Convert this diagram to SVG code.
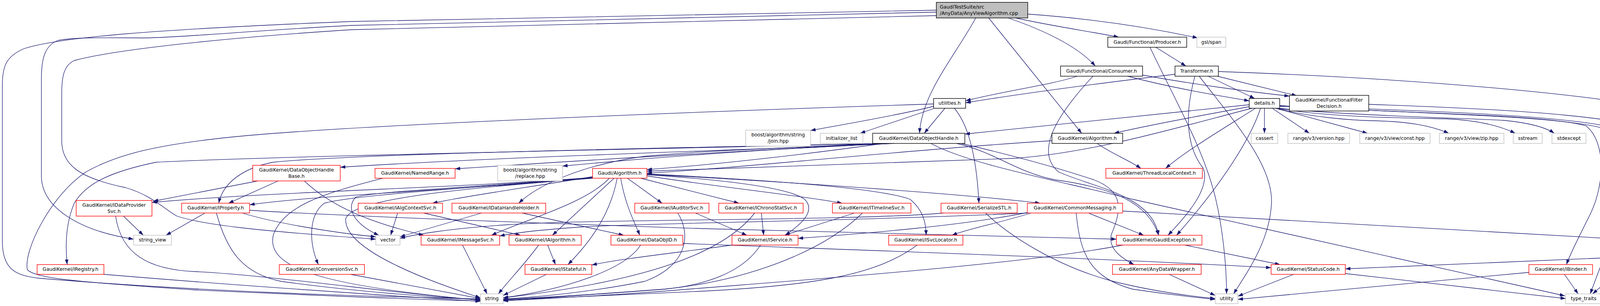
<svg xmlns="http://www.w3.org/2000/svg" width="4421" height="783" viewBox="0 0 4421 783">
<style>
.e path{fill:none;stroke:#191970;stroke-width:1.3;marker-end:url(#ah)}
rect.k{fill:#fff;stroke:#000;stroke-width:1.4}
rect.r{fill:#fff;stroke:#ff0000;stroke-width:1.4}
rect.g{fill:#fff;stroke:#bfbfbf;stroke-width:1.4}
rect.rt{fill:#bfbfbf;stroke:#000;stroke-width:1.4}
text{font-family:"DejaVu Sans",sans-serif;font-size:12.3px;fill:#000}
text.c{text-anchor:middle}
</style>
<defs>
<marker id="ah" viewBox="0 0 13 9" refX="13" refY="4.5" markerWidth="13" markerHeight="9" orient="auto" markerUnits="userSpaceOnUse"><path d="M0,0 L13,4.5 L0,9 Z" fill="#191970"/></marker>
</defs>
<rect x="0" y="0" width="4421" height="783" fill="#fff"/>
<g id="edges" class="e">
<path d="M2600,46 C2700,68 2800,82 2864,95"/>
<path d="M2631,36 C2800,48 2950,72 3066,97"/>
<path d="M2581,46 C2680,80 2760,120 2804,169"/>
<path d="M2531,46 C2610,144 2690,243 2769,341"/>
<path d="M2498,46 C2440,150 2360,240 2354,341"/>
<path d="M2397,26 C1800,38 1300,48 900,55 C400,75 150,95 60,125 C15,145 6,170 6,220 L6,617 C6,690 40,705 100,712 C500,745 900,758 1230,765"/>
<path d="M2397,31 C1800,45 1300,55 900,65 C650,78 450,97 370,97 C300,97 200,94 150,103 C115,115 106,150 106,200 L106,450 C106,530 200,590 342,612"/>
<path d="M2397,40 C1800,55 1300,65 900,76 C600,95 300,125 190,155 C162,168 158,200 158,240 L158,360 C158,420 200,455 321,480 C390,500 420,535 453,553 C520,575 650,590 962,612"/>
<path d="M2959,121 L3036,169"/>
<path d="M2944,121 C3010,260 3080,380 3110,500 C3130,580 3140,680 3140,752"/>
<path d="M2758,195 C2700,215 2560,235 2472,258"/>
<path d="M2887,195 C3000,225 3120,245 3198,258"/>
<path d="M2925,192 C3050,215 3200,235 3301,246"/>
<path d="M2798,195 C2700,300 2650,390 2710,440 C2800,480 2950,500 2966,602"/>
<path d="M3008,190 C2800,215 2600,242 2472,263"/>
<path d="M3093,195 L3212,252"/>
<path d="M3116,195 L3320,245"/>
<path d="M3119,183 C3600,200 4100,240 4300,290 C4400,320 4415,360 4415,420 L4415,620 C4415,680 4300,720 4100,758"/>
<path d="M3059,195 C3030,300 3040,380 3080,430 C3100,480 3040,550 2990,602"/>
<path d="M3070,195 C3150,300 3260,420 3255,520 C3250,620 3190,700 3158,752"/>
<path d="M2390,266 C1800,285 900,320 600,350 C400,370 300,395 220,440 C130,500 60,640 70,690 C90,712 200,722 500,742 C900,760 1100,768 1230,770"/>
<path d="M2390,272 C2300,295 2150,320 2075,334"/>
<path d="M2390,278 L2202,341"/>
<path d="M2419,277 L2366,341"/>
<path d="M2443,277 C2480,320 2500,400 2506,520"/>
<path d="M3198,268 C2900,300 2650,325 2470,343"/>
<path d="M3198,273 C3050,300 2920,325 2852,341"/>
<path d="M3205,277 C3000,330 2800,390 2600,405 C2200,420 1900,432 1656,438"/>
<path d="M3214,277 C3130,330 3030,390 2984,431"/>
<path d="M3227,277 C3200,360 3120,480 3012,602"/>
<path d="M3237,277 L3237,341"/>
<path d="M3257,277 L3352,341"/>
<path d="M3266,277 L3501,341"/>
<path d="M3272,279 C3350,298 3450,308 3520,309 C3600,311 3660,320 3709,341"/>
<path d="M3274,278 C3400,300 3600,302 3700,304 C3780,307 3840,322 3879,341"/>
<path d="M3275,277 C3450,296 3750,302 3850,308 C3920,315 3960,328 3979,341"/>
<path d="M3276,270 C3500,288 3950,290 4060,322 C4110,360 4110,470 4070,550 C4040,610 4020,650 4010,677"/>
<path d="M3276,271 C3600,290 4000,295 4110,330 C4160,380 4170,450 4160,500 C4130,600 4090,700 4071,752"/>
<path d="M3276,272 C3700,283 4100,300 4170,340 C4220,400 4240,500 4241,602"/>
<path d="M3504,267 C3900,280 4200,300 4300,355 C4360,390 4364,430 4364,470 L4364,590 C4364,640 4330,650 4200,656 C3900,670 3600,680 3444,688"/>
<path d="M2693,360 C2300,385 1900,430 1656,443"/>
<path d="M2809,367 C2840,390 2890,410 2921,431"/>
<path d="M2290,367 C1900,385 1300,400 871,428"/>
<path d="M2285,367 C1900,385 1500,410 1165,432"/>
<path d="M2280,367 C1900,385 1650,405 1440,425"/>
<path d="M2270,367 C1600,380 900,395 700,415 C620,430 570,470 560,520"/>
<path d="M2260,367 C1500,385 700,400 400,415 C280,440 220,470 190,520 C165,580 168,640 172,677"/>
<path d="M2250,367 C2000,380 1800,385 1650,400 C1500,420 1380,470 1328,520"/>
<path d="M2262,367 C2100,390 1850,420 1656,434"/>
<path d="M2449,367 C2550,390 2600,440 2700,460 C2850,480 2940,520 2966,602"/>
<path d="M2460,367 C2560,390 2680,420 2800,460 C2880,490 2870,540 2845,600 C2835,640 2880,665 2903,677"/>
<path d="M2383,367 C2480,420 2700,460 2900,510 L4006,757"/>
<path d="M660,463 L392,515"/>
<path d="M712,463 L585,520"/>
<path d="M779,463 C850,530 950,570 1085,602"/>
<path d="M1517,452 C1350,480 1200,500 1107,520"/>
<path d="M1517,454 C1200,480 700,490 389,518"/>
<path d="M1517,455 C1200,485 800,500 639,524"/>
<path d="M1517,456 C1200,480 900,500 830,520 C790,550 790,620 815,677"/>
<path d="M1517,455 C1200,480 950,490 910,505 C880,540 920,580 970,602"/>
<path d="M1517,456 C1150,485 900,510 885,560 C880,640 1100,720 1230,762"/>
<path d="M1560,456 C1500,520 1350,560 1258,602"/>
<path d="M1572,456 L1414,602"/>
<path d="M1580,456 C1560,560 1500,630 1454,677"/>
<path d="M1589,456 C1600,520 1620,560 1638,602"/>
<path d="M1606,456 L1695,520"/>
<path d="M1640,456 L1892,520"/>
<path d="M1656,450 C1850,480 2050,500 2156,520"/>
<path d="M1656,447 C1850,460 2020,480 2060,510 C2090,540 2050,575 2010,602"/>
<path d="M1656,445 C1950,460 2250,480 2330,510 C2365,540 2370,570 2371,602"/>
<path d="M1656,446 C2100,470 2500,500 2663,520"/>
<path d="M1018,545 L1000,602"/>
<path d="M1084,545 L1333,602"/>
<path d="M1233,545 L1024,606"/>
<path d="M1336,545 L1597,602"/>
<path d="M1780,545 L1912,602"/>
<path d="M1735,545 C1770,600 1760,680 1650,720 C1500,750 1350,762 1288,765"/>
<path d="M1949,545 L1955,602"/>
<path d="M1932,545 C1850,650 1650,720 1288,762"/>
<path d="M2188,545 L2008,602"/>
<path d="M2208,545 C2100,650 1900,720 1700,740 C1500,755 1350,765 1288,768"/>
<path d="M2523,545 C2580,600 2700,680 2850,720 C2950,745 3050,758 3111,764"/>
<path d="M2417,545 C2200,565 1500,560 1300,575 C1150,585 1060,600 1024,610"/>
<path d="M2786,545 L2928,602"/>
<path d="M2755,545 C2765,650 2790,710 2900,740 C3000,755 3070,762 3111,766"/>
<path d="M2874,540 L4151,612"/>
<path d="M2640,545 C2560,570 2480,585 2437,602"/>
<path d="M2635,543 C2450,580 2200,598 2043,610"/>
<path d="M2632,545 C2200,565 1700,570 1500,580 C1380,588 1320,595 1279,604"/>
<path d="M316,553 L367,602"/>
<path d="M296,553 C310,650 380,690 500,695 C700,705 1000,750 1230,768"/>
<path d="M525,545 L425,602"/>
<path d="M554,545 C580,640 620,700 720,720 C900,745 1100,760 1230,767"/>
<path d="M639,538 C900,555 1500,575 1800,585 C2300,600 2650,605 2858,612"/>
<path d="M620,545 C700,570 850,595 962,606"/>
<path d="M980,456 C850,490 730,520 700,600 C680,680 800,730 1230,768"/>
<path d="M266,702 C600,730 1000,757 1230,771"/>
<path d="M897,702 L1230,764"/>
<path d="M1184,627 L1247,752"/>
<path d="M1379,627 C1340,680 1300,720 1276,752"/>
<path d="M1402,627 L1422,677"/>
<path d="M1399,702 L1288,756"/>
<path d="M1640,627 C1600,690 1450,740 1288,762"/>
<path d="M1748,623 C2200,640 2800,660 3254,685"/>
<path d="M1947,627 C1900,700 1800,730 1700,740 C1500,755 1350,763 1288,766"/>
<path d="M1874,627 C1750,645 1600,660 1515,678"/>
<path d="M2348,627 C2250,700 2100,730 1800,745 C1550,757 1350,765 1288,768"/>
<path d="M3033,627 L3277,677"/>
<path d="M2875,627 C2600,680 2000,720 1700,745 C1500,760 1350,766 1288,770"/>
<path d="M2993,702 L3111,756"/>
<path d="M3312,702 L3169,758"/>
<path d="M3444,700 L4008,764"/>
<path d="M4005,702 L4040,752"/>
<path d="M3914,697 L3169,766"/>
<path d="M4221,627 L4077,752"/>
</g>
<g id="root"><rect class="rt" x="2397" y="6" width="234" height="40"/><text x="2406" y="22">GaudiTestSuite/src</text><text x="2406" y="37.5">/AnyData/AnyViewAlgorithm.cpp</text></g>
<g id="producer"><rect class="k" x="2836" y="95" width="202" height="26"/><text class="c" x="2937" y="111.5">Gaudi/Functional/Producer.h</text></g>
<g id="gslspan"><rect class="g" x="3064" y="95" width="74" height="26"/><text class="c" x="3101" y="111.5">gsl/span</text></g>
<g id="consumer"><rect class="k" x="2715" y="169" width="210" height="26"/><text class="c" x="2820" y="185.5">Gaudi/Functional/Consumer.h</text></g>
<g id="transformer"><rect class="k" x="3008" y="169" width="111" height="26"/><text class="c" x="3063.5" y="185.5">Transformer.h</text></g>
<g id="utilities"><rect class="k" x="2390" y="252" width="82" height="25"/><text class="c" x="2431" y="268">utilities.h</text></g>
<g id="details"><rect class="k" x="3198" y="252" width="78" height="25"/><text class="c" x="3237" y="268">details.h</text></g>
<g id="ffd"><rect class="k" x="3301" y="244" width="203" height="40"/><text class="c" x="3402.5" y="260">GaudiKernel/FunctionalFilter</text><text class="c" x="3402.5" y="275.5">Decision.h</text></g>
<g id="join"><rect class="g" x="1909" y="333" width="166" height="41"/><text class="c" x="1992" y="349">boost/algorithm/string</text><text class="c" x="1992" y="364.5">/join.hpp</text></g>
<g id="initlist"><rect class="g" x="2100" y="341" width="109" height="26"/><text class="c" x="2154.5" y="357.5">initializer_list</text></g>
<g id="doh"><rect class="k" x="2234" y="341" width="236" height="26"/><text class="c" x="2352" y="357.5">GaudiKernel/DataObjectHandle.h</text></g>
<g id="gkalg"><rect class="k" x="2693" y="341" width="181" height="26"/><text class="c" x="2783.5" y="357.5">GaudiKernel/Algorithm.h</text></g>
<g id="cassert"><rect class="g" x="3203" y="341" width="68" height="26"/><text class="c" x="3237" y="357.5">cassert</text></g>
<g id="version"><rect class="g" x="3297" y="341" width="158" height="26"/><text class="c" x="3376" y="357.5">range/v3/version.hpp</text></g>
<g id="const"><rect class="g" x="3481" y="341" width="180" height="26"/><text class="c" x="3571" y="357.5">range/v3/view/const.hpp</text></g>
<g id="zip"><rect class="g" x="3685" y="341" width="165" height="26"/><text class="c" x="3767.5" y="357.5">range/v3/view/zip.hpp</text></g>
<g id="sstream"><rect class="g" x="3874" y="341" width="74" height="26"/><text class="c" x="3911" y="357.5">sstream</text></g>
<g id="stdexcept"><rect class="g" x="3973" y="341" width="87" height="26"/><text class="c" x="4016.5" y="357.5">stdexcept</text></g>
<g id="dohbase"><rect class="r" x="647" y="423" width="224" height="40"/><text class="c" x="759" y="439">GaudiKernel/DataObjectHandle</text><text class="c" x="759" y="454.5">Base.h</text></g>
<g id="namedrange"><rect class="r" x="960" y="431" width="205" height="25"/><text class="c" x="1062.5" y="447">GaudiKernel/NamedRange.h</text></g>
<g id="replace"><rect class="g" x="1274" y="423" width="166" height="40"/><text class="c" x="1357" y="439">boost/algorithm/string</text><text class="c" x="1357" y="454.5">/replace.hpp</text></g>
<g id="galg"><rect class="r" x="1517" y="431" width="139" height="25"/><text class="c" x="1586.5" y="447">Gaudi/Algorithm.h</text></g>
<g id="tlc"><rect class="r" x="2831" y="431" width="247" height="25"/><text class="c" x="2954.5" y="447">GaudiKernel/ThreadLocalContext.h</text></g>
<g id="idps"><rect class="r" x="195" y="513" width="194" height="40"/><text class="c" x="292" y="529">GaudiKernel/IDataProvider</text><text class="c" x="292" y="544.5">Svc.h</text></g>
<g id="iprop"><rect class="r" x="465" y="520" width="174" height="25"/><text class="c" x="552" y="536">GaudiKernel/IProperty.h</text></g>
<g id="iacs"><rect class="r" x="917" y="520" width="216" height="25"/><text class="c" x="1025" y="536">GaudiKernel/IAlgContextSvc.h</text></g>
<g id="idhh"><rect class="r" x="1157" y="520" width="240" height="25"/><text class="c" x="1277" y="536">GaudiKernel/IDataHandleHolder.h</text></g>
<g id="iaud"><rect class="r" x="1625" y="520" width="190" height="25"/><text class="c" x="1720" y="536">GaudiKernel/IAuditorSvc.h</text></g>
<g id="ichrono"><rect class="r" x="1840" y="520" width="216" height="25"/><text class="c" x="1948" y="536">GaudiKernel/IChronoStatSvc.h</text></g>
<g id="itl"><rect class="r" x="2131" y="520" width="201" height="25"/><text class="c" x="2231.5" y="536">GaudiKernel/ITimelineSvc.h</text></g>
<g id="sstl"><rect class="r" x="2409" y="520" width="195" height="25"/><text class="c" x="2506.5" y="536">GaudiKernel/SerializeSTL.h</text></g>
<g id="cm"><rect class="r" x="2630" y="520" width="244" height="25"/><text class="c" x="2752" y="536">GaudiKernel/CommonMessaging.h</text></g>
<g id="strview"><rect class="g" x="342" y="602" width="97" height="25"/><text class="c" x="390.5" y="618">string_view</text></g>
<g id="vector"><rect class="g" x="962" y="602" width="62" height="25"/><text class="c" x="993" y="618">vector</text></g>
<g id="imsg"><rect class="r" x="1078" y="602" width="201" height="25"/><text class="c" x="1178.5" y="618">GaudiKernel/IMessageSvc.h</text></g>
<g id="ialg"><rect class="r" x="1303" y="602" width="185" height="25"/><text class="c" x="1395.5" y="618">GaudiKernel/IAlgorithm.h</text></g>
<g id="dobjid"><rect class="r" x="1564" y="602" width="184" height="25"/><text class="c" x="1656" y="618">GaudiKernel/DataObjID.h</text></g>
<g id="isvc"><rect class="r" x="1874" y="602" width="169" height="25"/><text class="c" x="1958.5" y="618">GaudiKernel/IService.h</text></g>
<g id="isl"><rect class="r" x="2275" y="602" width="190" height="25"/><text class="c" x="2370" y="618">GaudiKernel/ISvcLocator.h</text></g>
<g id="gexc"><rect class="r" x="2858" y="602" width="219" height="25"/><text class="c" x="2967.5" y="618">GaudiKernel/GaudiException.h</text></g>
<g id="detected"><rect class="k" x="4151" y="602" width="175" height="25"/><text class="c" x="4238.5" y="618">GaudiKernel/detected.h</text></g>
<g id="ireg"><rect class="r" x="95" y="677" width="171" height="25"/><text class="c" x="180.5" y="693">GaudiKernel/IRegistry.h</text></g>
<g id="iconv"><rect class="r" x="715" y="677" width="218" height="25"/><text class="c" x="824" y="693">GaudiKernel/IConversionSvc.h</text></g>
<g id="istateful"><rect class="r" x="1344" y="677" width="171" height="25"/><text class="c" x="1429.5" y="693">GaudiKernel/IStateful.h</text></g>
<g id="adw"><rect class="r" x="2848" y="677" width="227" height="25"/><text class="c" x="2961.5" y="693">GaudiKernel/AnyDataWrapper.h</text></g>
<g id="sc"><rect class="r" x="3254" y="677" width="190" height="25"/><text class="c" x="3349" y="693">GaudiKernel/StatusCode.h</text></g>
<g id="ibinder"><rect class="r" x="3914" y="677" width="163" height="25"/><text class="c" x="3995.5" y="693">GaudiKernel/IBinder.h</text></g>
<g id="string"><rect class="g" x="1230" y="752" width="58" height="25"/><text class="c" x="1259" y="768">string</text></g>
<g id="utility"><rect class="g" x="3111" y="752" width="58" height="25"/><text class="c" x="3140" y="768">utility</text></g>
<g id="typetraits"><rect class="g" x="4008" y="752" width="92" height="25"/><text class="c" x="4054" y="768">type_traits</text></g>
</svg>
